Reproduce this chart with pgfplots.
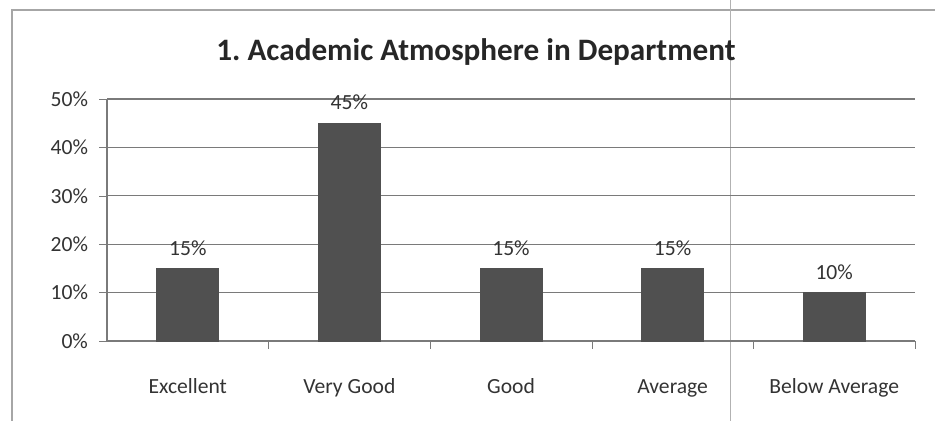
\documentclass[border=0pt]{standalone}
\usepackage{fontspec}
\setmainfont{Carlito}
\usepackage{pgfplots}
\pgfplotsset{compat=1.18}
\frenchspacing

\definecolor{barfill}{HTML}{505050}
\definecolor{gridgray}{HTML}{7A7A7A}

\begin{document}
\begin{tikzpicture}
% page is 935x421 px at 0.5pt per px
\path[use as bounding box] (0,0) rectangle (467.5pt,210.5pt);
% chart frame (scanned page edges)
\draw[gray!70, line width=0.6pt] (6pt,0) -- (6pt,205.5pt) -- (467.5pt,205.5pt);
\draw[gray!60, line width=0.4pt] (365pt,0) -- (365pt,210.5pt);

\node[font=\fontsize{15.6}{18}\selectfont\bfseries, text=black!85] at (238pt,184.5pt)
  {1. Academic Atmosphere in Department};

\begin{axis}[
  at={(53.5pt,40pt)}, anchor=south west,
  scale only axis,
  width=404pt, height=121pt,
  xmin=-0.5, xmax=4.5,
  ymin=0, ymax=50,
  axis x line*=bottom,
  axis y line*=left,
  axis line style={gridgray, line width=0.6pt},
  xtick={0,1,2,3,4},
  xticklabels={Excellent, Very Good, Good, Average, Below Average},
  major x tick style={draw=none},
  minor xtick={0.5,1.5,2.5,3.5,4.5},
  minor x tick style={gridgray},
  minor tick length=4pt,
  tick align=outside,
  ytick={0,10,20,30,40,50},
  yticklabels={0\%,10\%,20\%,30\%,40\%,50\%},
  major y tick style={gridgray},
  major tick length=4pt,
  ymajorgrids=true,
  grid style={gridgray, line width=0.6pt},
  tick label style={font=\fontsize{10.8}{13}\selectfont, text=black!80},
  xticklabel style={yshift=-11pt, text height=7.5pt, text depth=2pt},
  yticklabel style={xshift=-2pt},
  /pgf/number format/assume math mode=true,
  ybar,
  bar width=31pt,
  nodes near coords={\pgfmathprintnumber{\pgfplotspointmeta}\%},
  nodes near coords style={font=\fontsize{10.8}{13}\selectfont, text=black!80, yshift=3pt},
  clip=false,
]
\addplot[fill=barfill, draw=barfill] coordinates {
  (0,15) (1,45) (2,15) (3,15) (4,10)
};
\end{axis}
\end{tikzpicture}
\end{document}
